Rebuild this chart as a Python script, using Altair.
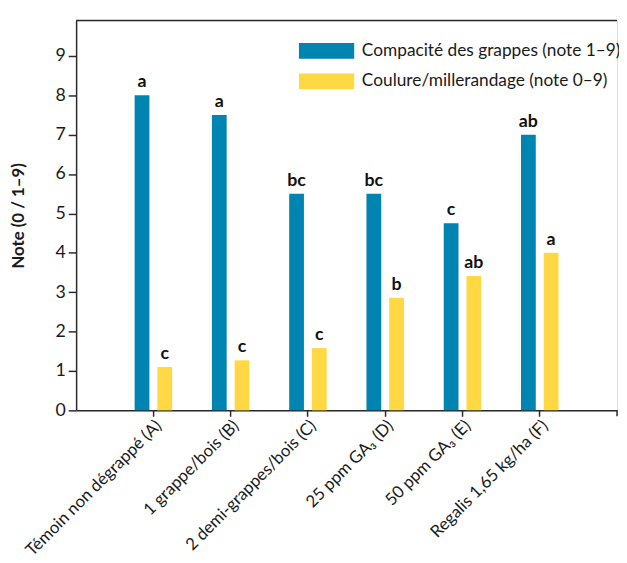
import altair as alt
import pandas as pd

categories = ["Témoin non dégrappé (A)", "1 grappe/bois (B)", "2 demi-grappes/bois (C)",
              "25 ppm GA₃ (D)", "50 ppm GA₃ (E)", "Regalis 1,65 kg/ha (F)"]
series = ["Compacité des grappes (note 1–9)", "Coulure/millerandage (note 0–9)"]
compacite = [8.0, 7.5, 5.5, 5.5, 4.75, 7.0]
coulure = [1.1, 1.27, 1.58, 2.86, 3.41, 4.0]
letters_compacite = ["a", "a", "bc", "bc", "c", "ab"]
letters_coulure = ["c", "c", "c", "b", "ab", "a"]
y_ticks = [0, 1, 2, 3, 4, 5, 6, 7, 8, 9]
colors = ["#0085b3", "#ffd843"]

rows = []
for i, c in enumerate(categories):
    rows.append({"category": c, "series": series[0], "value": compacite[i], "letter": letters_compacite[i]})
    rows.append({"category": c, "series": series[1], "value": coulure[i], "letter": letters_coulure[i]})
df = pd.DataFrame(rows)

W, H = 548, 395
FONT = "Lato"
AX = "#2a2a2a"

base = alt.Chart(df)

x_enc = alt.X("category:N", sort=categories,
              scale=alt.Scale(paddingInner=0.5, paddingOuter=0.75),
              axis=alt.Axis(title=None, labelAngle=-45, labelFontSize=17, labelColor="#1a1a1a",
                            tickSize=6, tickColor=AX, tickWidth=1.5, domainColor=AX, domainWidth=1.5,
                            labelPadding=1, labelLimit=0, labelFont=FONT))
xo_enc = alt.XOffset("series:N", sort=series,
                     scale=alt.Scale(paddingInner=0.35, paddingOuter=0.025))
y_enc = alt.Y("value:Q", scale=alt.Scale(domain=[0, 9.9], nice=False),
              axis=alt.Axis(values=y_ticks, grid=False, tickSize=8, tickColor=AX, tickWidth=1.5,
                            domainColor=AX, domainWidth=1.5, labelPadding=3, labelFontSize=18,
                            labelColor="#1a1a1a", labelFont=FONT,
                            title="Note (0 / 1–9)", titleFontWeight="bold", titleFontSize=17,
                            titleFont=FONT, titleColor="#1a1a1a",
                            titleX=-58, titleY=H / 2, titleAlign="center", titleBaseline="middle"))

bars = base.mark_bar().encode(
    x=x_enc, xOffset=xo_enc, y=y_enc,
    color=alt.Color("series:N", sort=series,
                    scale=alt.Scale(domain=series, range=colors),
                    legend=alt.Legend(title=None, orient="none", legendX=225, legendY=22,
                                      symbolType="M-1,-1H6V1H-1Z", symbolSize=256,
                                      symbolStrokeWidth=0, labelOffset=47, rowPadding=12,
                                      labelFontSize=17.5, labelFont=FONT, labelColor="#1a1a1a",
                                      padding=0, labelLimit=0))
)

labels = base.mark_text(baseline="bottom", dy=-4, fontWeight="bold", fontSize=18,
                        font=FONT, color="#111111").encode(
    x=alt.X("category:N", sort=categories), xOffset=alt.XOffset("series:N", sort=series),
    y="value:Q", text="letter:N")

one = alt.Chart(pd.DataFrame({"k": [0]}))
top_border = one.mark_rule(color=AX, strokeWidth=1.5).encode(
    x=alt.value(0), x2=alt.value(W), y=alt.value(0))
end_tick = one.mark_rule(color=AX, strokeWidth=1.5).encode(
    x=alt.value(W), y=alt.value(H), y2=alt.value(H + 6))

chart = alt.layer(bars, labels, top_border, end_tick).properties(
    width=W, height=H,
    autosize=alt.AutoSizeParams(type="none"),
    padding={"left": 69, "top": 9, "right": 2, "bottom": 150},
).configure_view(stroke=None).configure(font=FONT)

chart.save("out.html", embed_options={"renderer": "svg", "actions": False})
